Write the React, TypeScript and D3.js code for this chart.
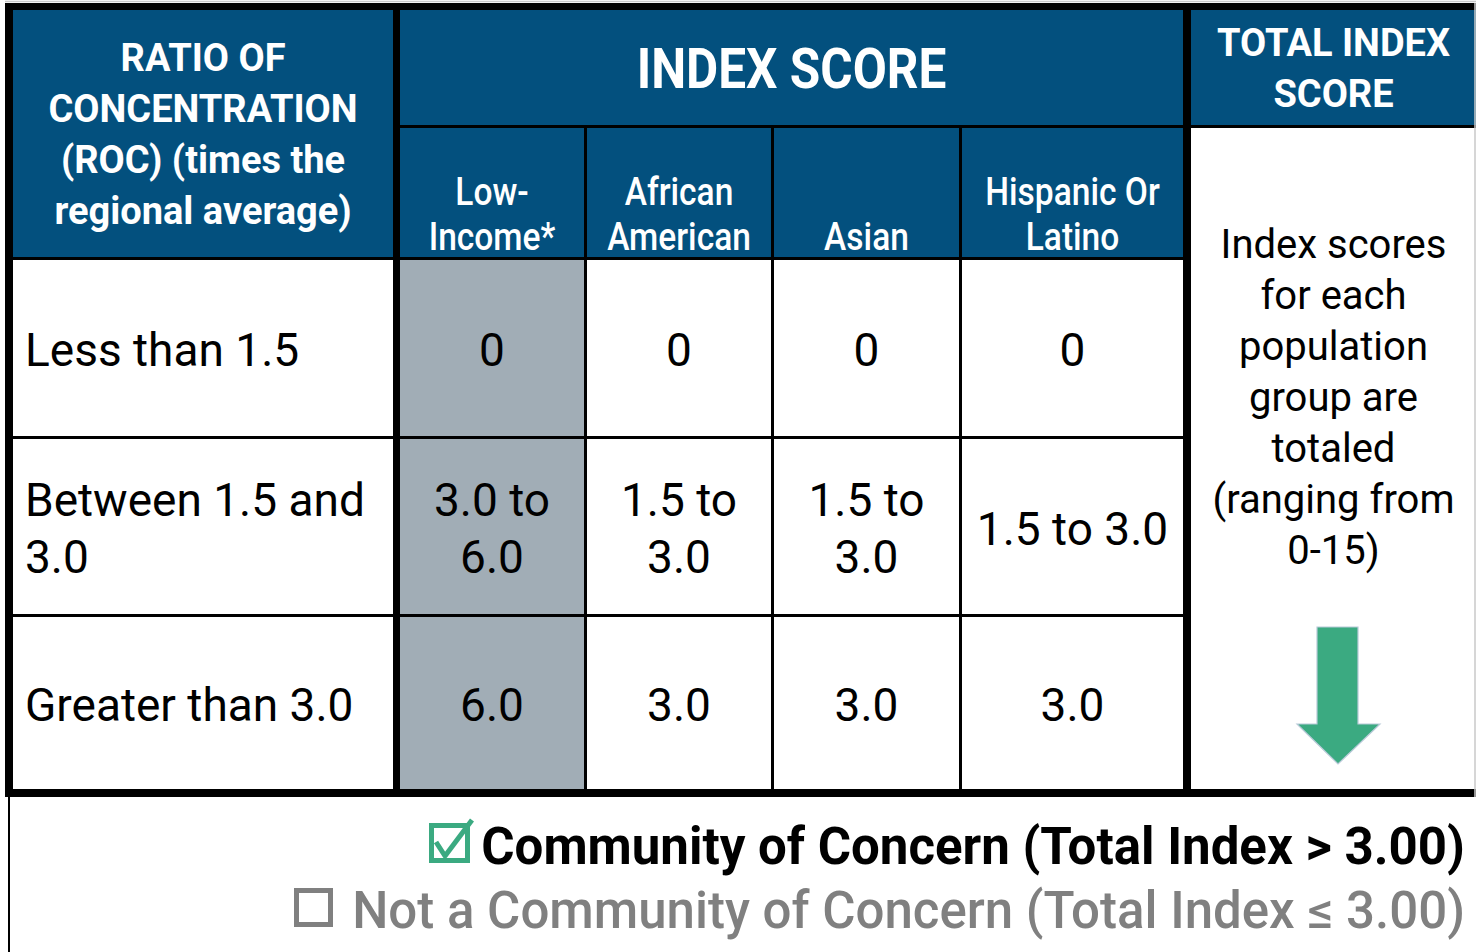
import { useEffect, useRef } from 'react';
import * as d3 from 'd3';

// Table content
const ROC_HEADER = ['RATIO OF', 'CONCENTRATION', '(ROC) (times the', 'regional average)'];
const INDEX_HEADER = 'INDEX SCORE';
const TOTAL_HEADER = ['TOTAL INDEX', 'SCORE'];
const GROUPS = [['Low-', 'Income*'], ['African', 'American'], ['Asian'], ['Hispanic Or', 'Latino']];
const ROC_LABELS = [['Less than 1.5'], ['Between 1.5 and', '3.0'], ['Greater than 3.0']];
const LOW_INCOME = [['0'], ['3.0 to', '6.0'], ['6.0']];
const AFRICAN_AMERICAN = [['0'], ['1.5 to', '3.0'], ['3.0']];
const ASIAN = [['0'], ['1.5 to', '3.0'], ['3.0']];
const HISPANIC_LATINO = [['0'], ['1.5 to 3.0'], ['3.0']];
const TOTAL_NOTE = ['Index scores', 'for each', 'population', 'group are', 'totaled', '(ranging from', '0-15)'];
const LEGEND = ['Community of Concern (Total Index > 3.00)', 'Not a Community of Concern (Total Index \u2264 3.00)'];

const BLUE = '#03507e';
const GRAY_CELL = '#a1adb6';
const GREEN = '#3baa81';
const LEGEND_GRAY = '#808080';
const BODY_FONT = "Roboto, 'Liberation Sans', sans-serif";

const W = 1476;
const H = 952;

const App: React.FC = () => {
    const svgRef = useRef<SVGSVGElement>(null);

    useEffect(() => {
        if (!svgRef.current) return;
        d3.select(svgRef.current).selectAll('*').remove();

        const svg = d3.select(svgRef.current)
            .attr('width', W)
            .attr('height', H);

        // column / row cell extents
        const colKeys = ['roc', 'low', 'aa', 'asian', 'hisp', 'total'];
        const colStart = d3.scaleOrdinal<string, number>().domain(colKeys).range([13, 400, 587, 774, 962, 1191]);
        const colEnd = d3.scaleOrdinal<string, number>().domain(colKeys).range([393, 584, 771, 959, 1183, 1476]);
        const rowKeys = ['h1', 'h2', 'r0', 'r1', 'r2'];
        const rowStart = d3.scaleOrdinal<string, number>().domain(rowKeys).range([10, 128, 260, 439, 617]);
        const rowEnd = d3.scaleOrdinal<string, number>().domain(rowKeys).range([125, 257, 436, 614, 789]);

        const cell = (c0: string, c1: string, r0: string, r1: string, fill: string) => {
            svg.append('rect')
                .attr('x', colStart(c0))
                .attr('y', rowStart(r0))
                .attr('width', colEnd(c1) - colStart(c0))
                .attr('height', rowEnd(r1) - rowStart(r0))
                .attr('fill', fill);
        };

        const lines = (
            texts: string[], x: number, firstBaseline: number, lh: number, size: number,
            opts: { anchor?: string; weight?: number | string; fill?: string; sx?: number } = {}
        ) => {
            // horizontally squeezed text stands in for the condensed face of the original
            const holder = svg.append('g').attr('transform', `translate(${x},0) scale(${opts.sx ?? 1},1)`);
            const t = holder.append('text')
                .attr('x', 0)
                .attr('y', firstBaseline)
                .attr('text-anchor', opts.anchor ?? 'middle')
                .attr('font-family', BODY_FONT)
                .attr('font-size', size)
                .attr('font-weight', opts.weight ?? 400)
                .attr('fill', opts.fill ?? '#000');
            texts.forEach((s, i) => {
                t.append('tspan').attr('x', 0).attr('y', firstBaseline + i * lh).text(s);
            });
        };
        const centered = (n: number, cy: number, lh: number, size: number) =>
            cy - ((n - 1) / 2) * lh + size * 0.37;

        // background + frame
        svg.append('rect').attr('width', W).attr('height', H).attr('fill', '#fff');
        svg.append('rect').attr('x', 5).attr('y', 3).attr('width', W - 5).attr('height', 794).attr('fill', '#000');
        svg.append('line').attr('x1', 5).attr('x2', W).attr('y1', 1.5).attr('y2', 1.5)
            .attr('stroke', '#c8c8c8').attr('stroke-width', 1.5);
        svg.append('line').attr('x1', 9).attr('x2', 9).attr('y1', 797).attr('y2', H)
            .attr('stroke', '#000').attr('stroke-width', 2);

        // header cells
        cell('roc', 'roc', 'h1', 'h2', BLUE);
        cell('low', 'hisp', 'h1', 'h1', BLUE);
        ['low', 'aa', 'asian', 'hisp'].forEach(c => cell(c, c, 'h2', 'h2', BLUE));
        cell('total', 'total', 'h1', 'h1', BLUE);
        cell('total', 'total', 'h2', 'r2', '#fff');
        svg.append('line').attr('x1', W - 1).attr('x2', W - 1).attr('y1', 3).attr('y2', 797)
            .attr('stroke', '#c8c8c8').attr('stroke-width', 1.5);

        // body cells
        const valueCols = [
            { key: 'low', data: LOW_INCOME, fill: GRAY_CELL },
            { key: 'aa', data: AFRICAN_AMERICAN, fill: '#fff' },
            { key: 'asian', data: ASIAN, fill: '#fff' },
            { key: 'hisp', data: HISPANIC_LATINO, fill: '#fff' },
        ];
        ROC_LABELS.forEach((_, i) => {
            const r = `r${i}`;
            cell('roc', 'roc', r, r, '#fff');
            valueCols.forEach(v => cell(v.key, v.key, r, r, v.fill));
        });

        // header texts
        const rocCx = (colStart('roc') + colEnd('roc')) / 2;
        lines(ROC_HEADER, rocCx, centered(4, (rowStart('h1') + rowEnd('h2')) / 2, 51, 38), 51, 38,
            { weight: 700, fill: '#fff' });
        lines([INDEX_HEADER], (colStart('low') + colEnd('hisp')) / 2,
            centered(1, (rowStart('h1') + rowEnd('h1')) / 2, 0, 55), 0, 55,
            { weight: 700, fill: '#fff', sx: 0.9 });
        const totalCx = (colStart('total') + colEnd('total')) / 2;
        lines(TOTAL_HEADER, totalCx, centered(2, (rowStart('h1') + rowEnd('h1')) / 2, 51, 38), 51, 38,
            { weight: 700, fill: '#fff' });

        GROUPS.forEach((g, i) => {
            const key = valueCols[i].key;
            const cx = (colStart(key) + colEnd(key)) / 2;
            const lastBaseline = rowEnd('h2') - 7;
            lines(g, cx, lastBaseline - (g.length - 1) * 45, 45, 39,
                { fill: '#fff', weight: 500, sx: 0.86 });
        });

        // body texts
        ROC_LABELS.forEach((label, i) => {
            const r = `r${i}`;
            const cy = (rowStart(r) + rowEnd(r)) / 2;
            lines(label, colStart('roc') + 12, centered(label.length, cy, 57, 46) + 1, 57, 46, { anchor: 'start' });
            valueCols.forEach(v => {
                const val = v.data[i];
                const cx = (colStart(v.key) + colEnd(v.key)) / 2;
                lines(val, cx, centered(val.length, cy, 57, 46) + 1, 57, 46);
            });
        });

        lines(TOTAL_NOTE, totalCx, 258, 51, 40);

        // green arrow
        const ax = 1338;
        const arrow = d3.path();
        arrow.moveTo(ax - 21, 627);
        arrow.lineTo(ax + 20, 627);
        arrow.lineTo(ax + 20, 724);
        arrow.lineTo(ax + 42, 724);
        arrow.lineTo(ax, 764);
        arrow.lineTo(ax - 41, 724);
        arrow.lineTo(ax - 21, 724);
        arrow.closePath();
        svg.append('path').attr('d', arrow.toString()).attr('fill', GREEN)
            .attr('stroke', '#b8cad8').attr('stroke-width', 1.2);

        // legend
        lines([LEGEND[0]], 1465, 864, 0, 51, { anchor: 'end', weight: 700 });
        lines([LEGEND[1]], 1465, 928, 0, 51, { anchor: 'end', weight: 500, fill: LEGEND_GRAY });

        svg.append('rect').attr('x', 431.5).attr('y', 825.5).attr('width', 36).attr('height', 35)
            .attr('fill', 'none').attr('stroke', GREEN).attr('stroke-width', 5);
        svg.append('path').attr('d', 'M436,842 L445,856 L472,820')
            .attr('fill', 'none').attr('stroke', GREEN).attr('stroke-width', 5).attr('stroke-linejoin', 'round');
        svg.append('rect').attr('x', 296.5).attr('y', 890.5).attr('width', 34).attr('height', 34)
            .attr('fill', 'none').attr('stroke', LEGEND_GRAY).attr('stroke-width', 5);
    }, []);

    return (
        <svg ref={svgRef} style={{ position: 'absolute', left: 0, top: 0, display: 'block' }}></svg>
    );
};

export default App;
